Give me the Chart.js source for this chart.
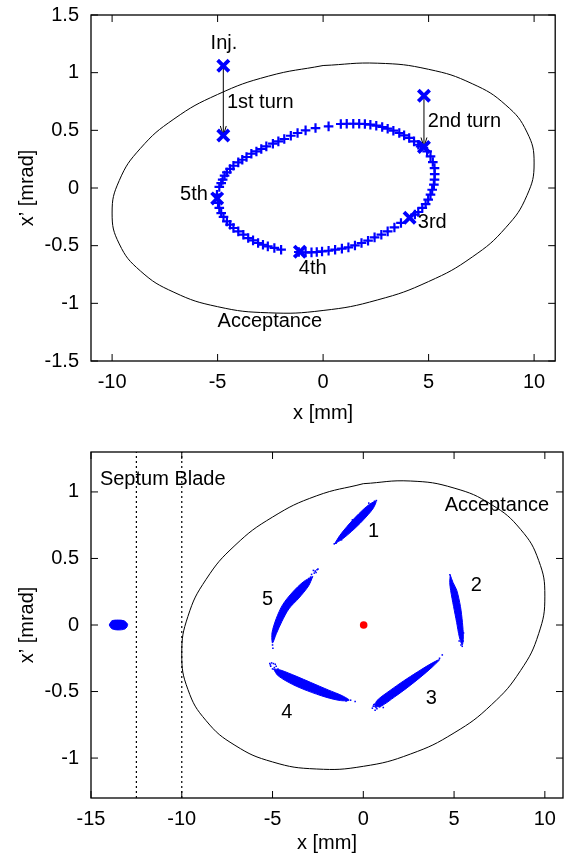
<!DOCTYPE html>
<html>
<head>
<meta charset="utf-8">
<script src="https://cdn.jsdelivr.net/npm/chart.js@4.4.1/dist/chart.umd.min.js"></script>
<style>
    html, body { margin: 0; padding: 0; background: #fff; overflow: hidden; }
    .plot-box { position: absolute; left: 0; width: 567px; }
    #turns-box { top: 0; height: 430px; }
    #beam-box { top: 430px; height: 431px; }
</style>
</head>
<body>
<div class="plot-box" id="turns-box"><canvas id="turns"></canvas></div>
<div class="plot-box" id="beam-box"><canvas id="beam"></canvas></div>
<script>
// アクセプタンス楕円 (x [mm], x' [mrad])
const acceptance = [
    [0, 1.062], [-2.59, 0.970], [-5.0, 0.811], [-7.07, 0.598], [-8.66, 0.343], [-9.66, 0.065],
    [-10, -0.217], [-9.66, -0.485], [-8.66, -0.719], [-7.07, -0.904], [-5.0, -1.029], [-2.59, -1.082],
    [0, -1.062], [2.59, -0.970], [5.0, -0.811], [7.07, -0.598], [8.66, -0.343], [9.66, -0.065],
    [10, 0.217], [9.66, 0.485], [8.66, 0.719], [7.07, 0.904], [5.0, 1.029], [2.59, 1.082], [0, 1.062]
];

// 入射点と 1〜5 ターン目 (太い×)
const turnMarks = [
    [-4.73, 1.06], [-4.73, 0.455], [4.78, 0.80], [4.78, 0.355], [4.10, -0.258], [-1.10, -0.552], [-5.02, -0.09]
];

// 周回ごとの位置 (+)
const ringTurns = [
    [0.26, 0.534], [0.84, 0.555], [1.12, 0.557], [1.43, 0.557], [1.71, 0.557], [1.98, 0.555], [2.24, 0.549],
    [2.52, 0.54], [2.80, 0.529], [3.06, 0.514], [3.33, 0.497], [3.61, 0.477], [3.84, 0.456], [4.08, 0.434],
    [4.31, 0.404], [4.51, 0.375], [4.62, 0.36], [4.93, 0.317], [5.09, 0.274], [5.20, 0.225], [5.28, 0.173],
    [5.29, 0.121], [5.28, 0.072], [5.25, 0.029], [5.17, -0.015], [5.09, -0.058], [4.98, -0.101], [4.86, -0.139],
    [4.70, -0.173], [4.51, -0.208], [4.35, -0.23], [3.69, -0.303], [3.38, -0.342], [3.06, -0.376], [2.76, -0.405],
    [2.44, -0.428], [2.13, -0.457], [1.82, -0.477], [1.51, -0.498], [1.20, -0.515], [0.89, -0.526], [0.57, -0.535],
    [0.26, -0.544], [-0.05, -0.55], [-0.30, -0.555], [-0.55, -0.558], [-0.83, -0.558], [-1.15, -0.555],
    [-1.99, -0.535], [-2.31, -0.52], [-2.62, -0.506], [-2.85, -0.492], [-3.08, -0.477], [-3.32, -0.454],
    [-3.55, -0.434], [-3.78, -0.405], [-4.02, -0.376], [-4.25, -0.347], [-4.41, -0.318], [-4.56, -0.29],
    [-4.72, -0.251], [-4.83, -0.217], [-4.92, -0.173], [-4.98, -0.13], [-5.03, -0.058], [-4.92, 0.009],
    [-4.83, 0.043], [-4.76, 0.072], [-4.67, 0.107], [-4.56, 0.135], [-4.41, 0.165], [-4.25, 0.193],
    [-4.02, 0.222], [-3.83, 0.245], [-3.63, 0.269], [-3.40, 0.297], [-3.16, 0.317], [-2.93, 0.338],
    [-2.69, 0.361], [-2.38, 0.384], [-2.12, 0.404], [-1.84, 0.425], [-1.53, 0.453], [-1.21, 0.477],
    [-0.83, 0.50], [-0.36, 0.52]
];

// キッカーによる移動 (矢印)
const kicks = [
    [[-4.73, 1.06], [-4.73, 0.455]],
    [[4.78, 0.80], [4.78, 0.355]]
];

const turnsLabels = [
    ['Inj.', -4.70, 1.25, 'center'],
    ['1st turn', -4.56, 0.742, 'left'],
    ['2nd turn', 4.96, 0.578, 'left'],
    ['5th', -5.46, -0.052, 'right'],
    ['3rd', 4.49, -0.303, 'left'],
    ['4th', -1.15, -0.70, 'left'],
    ['Acceptance', -5.0, -1.157, 'left']
];

const turnsXTicks = [-10, -5, 0, 5, 10];
const turnsYTicks = [-1.5, -1, -0.5, 0, 0.5, 1, 1.5];

// 下図: セプタム位置と各ターンのビーム分布
const septumX = [-12.5, -10];

const bunch1 = [
    [-1.58, 0.61], [-1.30, 0.672], [-0.90, 0.740], [-0.47, 0.805], [-0.02, 0.866], [0.35, 0.908], [0.70, 0.93],
    [0.56, 0.880], [0.26, 0.828], [-0.17, 0.765], [-0.64, 0.704], [-1.13, 0.648], [-1.58, 0.61]
];
const bunch2 = [
    [4.79, 0.375], [4.94, 0.32], [5.15, 0.26], [5.35, 0.14], [5.46, 0.02], [5.51, -0.09], [5.45, -0.15],
    [5.29, -0.09], [5.14, 0.02], [4.97, 0.14], [4.81, 0.26], [4.76, 0.32], [4.79, 0.375]
];
const bunch3 = [
    [0.62, -0.615], [0.75, -0.568], [1.47, -0.492], [2.21, -0.421], [2.97, -0.354], [3.67, -0.295], [4.20, -0.26],
    [3.79, -0.317], [3.17, -0.390], [2.46, -0.467], [1.73, -0.540], [0.98, -0.610], [0.62, -0.615]
];
const bunch4 = [
    [-4.95, -0.33], [-4.57, -0.338], [-3.71, -0.384], [-2.89, -0.432], [-1.93, -0.488], [-1.15, -0.532], [-0.78, -0.565],
    [-1.25, -0.568], [-2.07, -0.542], [-3.07, -0.495], [-3.89, -0.447], [-4.69, -0.382], [-4.95, -0.33]
];
const bunch5 = [
    [-2.78, 0.365], [-3.28, 0.327], [-3.89, 0.248], [-4.44, 0.153], [-4.80, 0.047], [-5.03, -0.06], [-5.0, -0.135],
    [-4.79, -0.065], [-4.48, 0.028], [-4.10, 0.121], [-3.55, 0.202], [-3.02, 0.293], [-2.78, 0.365]
];
const injectedBunch = [
    [-14.0, 0.0], [-13.85, 0.031], [-13.5, 0.037], [-13.17, 0.031], [-12.98, 0.003],
    [-13.12, -0.029], [-13.5, -0.037], [-13.85, -0.028], [-14.0, 0.0]
];
const strayParticles = [
    [0.72, 0.935], [0.62, 0.93], [-1.5, 0.615], [-1.6, 0.61], [-1.2, 0.64], [0.3, 0.916], [-0.6, 0.79],
    [4.77, 0.377], [5.45, -0.16], [5.5, -0.12], [5.38, -0.15], [4.85, 0.33], [5.52, -0.06], [5.28, -0.12],
    [4.35, -0.225], [4.2, -0.25], [0.5, -0.625], [0.55, -0.61], [0.62, -0.595], [0.7, -0.62], [0.8, -0.59],
    [0.9, -0.615], [0.65, -0.64], [1.0, -0.585], [0.58, -0.6], [1.1, -0.62], [0.75, -0.63], [1.25, -0.57],
    [-5.15, -0.29], [-5.05, -0.285], [-4.95, -0.29], [-5.1, -0.31], [-4.9, -0.32], [-4.8, -0.31],
    [-5.0, -0.33], [-4.7, -0.33], [-0.45, -0.575], [-0.7, -0.565], [-4.6, -0.345], [-5.12, -0.3],
    [-4.85, -0.295], [-0.95, -0.57],
    [-2.55, 0.415], [-2.65, 0.405], [-2.75, 0.41], [-2.7, 0.39], [-2.85, 0.38], [-2.6, 0.395], [-2.9, 0.36],
    [-2.5, 0.42], [-3.0, 0.35], [-4.98, -0.175], [-5.0, -0.15]
];
const storedBeam = [[0.02, 0.0]];

const beamLabels = [
    ['Septum Blade', -14.51, 1.093, 'left'],
    ['Acceptance', 4.48, 0.90, 'left'],
    ['1', 0.56, 0.70, 'center'],
    ['2', 6.23, 0.30, 'center'],
    ['3', 3.74, -0.55, 'center'],
    ['4', -4.22, -0.658, 'center'],
    ['5', -5.27, 0.19, 'center']
];

const beamXTicks = [-15, -10, -5, 0, 5, 10];
const beamYTicks = [-1, -0.5, 0, 0.5, 1];

const BLUE = '#0000ff';
const FONT = 'Liberation Sans, Arial, Helvetica, sans-serif';
const FONT_SIZE = 20;
Chart.defaults.font.family = FONT;
Chart.defaults.font.size = FONT_SIZE;
Chart.defaults.color = '#000';

const toXY = list => list.map(([x, y]) => ({ x: x, y: y }));

function curve(list, color, width) {
    return { data: toXY(list), showLine: true, borderColor: color, borderWidth: width,
             pointRadius: 0, tension: 0.45, fill: false };
}
function blob(list) {
    return { data: toXY(list), showLine: true, borderColor: BLUE, borderWidth: 1,
             backgroundColor: BLUE, pointRadius: 0, tension: 0.3, fill: 'shape' };
}

// 枠・内向き目盛り・矢印・注記
function framePlugin(labels, arrows) {
    return {
        id: 'frame',
        beforeDatasetsDraw(chart) {
            const { ctx, scales: { x, y } } = chart;
            ctx.save();
            ctx.strokeStyle = '#000';
            ctx.lineWidth = 1;
            ctx.beginPath();
            arrows.forEach(([from, to]) => {
                const x0 = x.getPixelForValue(from[0]), y0 = y.getPixelForValue(from[1]);
                const x1 = x.getPixelForValue(to[0]), y1 = y.getPixelForValue(to[1]);
                const ang = Math.atan2(y1 - y0, x1 - x0);
                ctx.moveTo(x0, y0);
                ctx.lineTo(x1, y1);
                ctx.moveTo(x1 - 10 * Math.cos(ang - 0.3), y1 - 10 * Math.sin(ang - 0.3));
                ctx.lineTo(x1, y1);
                ctx.lineTo(x1 - 10 * Math.cos(ang + 0.3), y1 - 10 * Math.sin(ang + 0.3));
            });
            ctx.stroke();
            ctx.restore();
        },
        afterDatasetsDraw(chart) {
            const { ctx, chartArea: a, scales: { x, y } } = chart;
            ctx.save();
            ctx.strokeStyle = '#000';
            ctx.lineWidth = 1.3;
            ctx.strokeRect(a.left, a.top, a.right - a.left, a.bottom - a.top);
            ctx.lineWidth = 1;
            const t = 7;
            ctx.beginPath();
            x.ticks.forEach(tk => {
                const px = x.getPixelForValue(tk.value);
                ctx.moveTo(px, a.bottom); ctx.lineTo(px, a.bottom - t);
                ctx.moveTo(px, a.top); ctx.lineTo(px, a.top + t);
            });
            y.ticks.forEach(tk => {
                const py = y.getPixelForValue(tk.value);
                ctx.moveTo(a.left, py); ctx.lineTo(a.left + t, py);
                ctx.moveTo(a.right, py); ctx.lineTo(a.right - t, py);
            });
            ctx.stroke();

            ctx.fillStyle = '#000';
            ctx.font = FONT_SIZE + 'px ' + FONT;
            ctx.textBaseline = 'middle';
            labels.forEach(([text, lx, ly, align]) => {
                ctx.textAlign = align;
                ctx.fillText(text, x.getPixelForValue(lx), y.getPixelForValue(ly));
            });
            ctx.restore();
        }
    };
}

// 目盛りラベルのはみ出し分の余白は使わない
function noEdgePadding(s) {
    s.paddingTop = 0; s.paddingBottom = 0; s.paddingLeft = 0; s.paddingRight = 0;
}

function makePlot(canvasId, opt) {
    return new Chart(document.getElementById(canvasId), {
        type: 'scatter',
        data: { datasets: opt.datasets },
        options: {
            responsive: true,
            maintainAspectRatio: false,
            animation: false,
            events: [],
            layout: { padding: { left: 0, right: 4, top: opt.top, bottom: 0 } },
            plugins: { legend: { display: false }, tooltip: { enabled: false } },
            scales: {
                x: {
                    type: 'linear', min: opt.xRange[0], max: opt.xRange[1],
                    afterBuildTicks: s => { s.ticks = opt.xTicks.map(v => ({ value: v })); },
                    afterFit: s => { s.height = opt.xAxisHeight; noEdgePadding(s); },
                    grid: { display: false, drawTicks: false },
                    border: { display: false },
                    ticks: { padding: 9, autoSkip: false, maxRotation: 0, callback: v => String(v) },
                    title: { display: true, text: 'x [mm]', padding: { top: 0, bottom: opt.xTitlePad } }
                },
                y: {
                    type: 'linear', min: opt.yRange[0], max: opt.yRange[1],
                    afterBuildTicks: s => { s.ticks = opt.yTicks.map(v => ({ value: v })); },
                    afterFit: s => { s.width = 91; noEdgePadding(s); },
                    grid: { display: false, drawTicks: false },
                    border: { display: false },
                    ticks: { padding: 12, autoSkip: false, callback: v => String(v) },
                    title: { display: true, text: 'x’ [mrad]', padding: { top: 15, bottom: 0 } }
                }
            }
        },
        plugins: [framePlugin(opt.labels, opt.arrows)]
    });
}

// 上図: 入射後の周回
makePlot('turns', {
    top: 15, xAxisHeight: 69, xTitlePad: 5,
    xRange: [-11, 11], yRange: [-1.5, 1.5],
    xTicks: turnsXTicks, yTicks: turnsYTicks,
    labels: turnsLabels, arrows: kicks,
    datasets: [
        curve(acceptance, '#000', 1),
        { data: toXY(ringTurns), pointStyle: 'cross', pointRadius: 4.8,
          pointBorderWidth: 2.2, pointBorderColor: BLUE, pointBackgroundColor: BLUE },
        { data: toXY(turnMarks), pointStyle: 'crossRot', pointRadius: 8,
          pointBorderWidth: 3.8, pointBorderColor: BLUE, pointBackgroundColor: BLUE }
    ]
});

// 下図: 粒子分布
const septumLines = septumX.map(sx => ({
    data: [{ x: sx, y: -1.3 }, { x: sx, y: 1.3 }], showLine: true, borderColor: '#000',
    borderWidth: 1.2, borderDash: [2, 3], pointRadius: 0, fill: false
}));

makePlot('beam', {
    top: 22, xAxisHeight: 63, xTitlePad: 6,
    xRange: [-15, 11], yRange: [-1.3, 1.3],
    xTicks: beamXTicks, yTicks: beamYTicks,
    labels: beamLabels, arrows: [],
    datasets: [
        curve(acceptance, '#000', 1),
        ...septumLines,
        blob(bunch1), blob(bunch2), blob(bunch3), blob(bunch4), blob(bunch5), blob(injectedBunch),
        { data: toXY(strayParticles), pointStyle: 'rect', pointRadius: 1.1, pointBorderWidth: 0,
          pointBackgroundColor: BLUE },
        { data: toXY(storedBeam), pointRadius: 3.8, pointBorderWidth: 0, pointBackgroundColor: '#ff0000' }
    ]
});
</script>
</body>
</html>
